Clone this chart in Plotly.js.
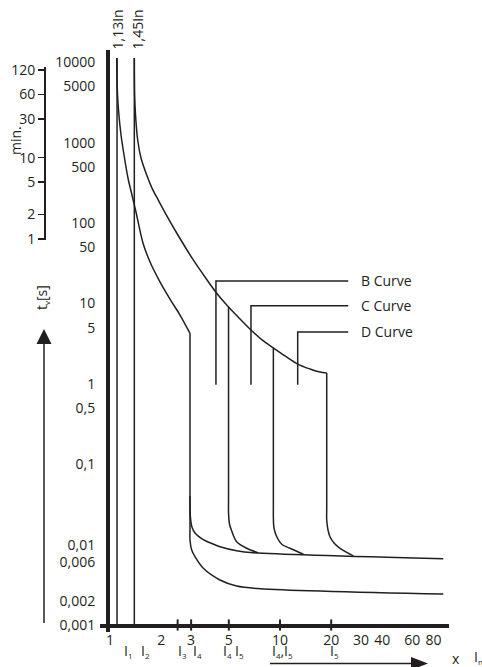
<!DOCTYPE html>
<html><head><meta charset="utf-8">
<script src="https://cdn.plot.ly/plotly-3.0.1.min.js"></script>
<style>html,body{margin:0;padding:0;background:#fff;}#chart{width:482px;height:667px;}</style>
</head><body><div id="chart"></div>
<script>
// ---------- data ----------
const xTickVals = [1, 2, 3, 5, 10, 20, 30, 40, 60, 80];
const xTickText = ['1', '2', '3', '5', '10', '20', '30', '40', '60', '80'];
const yTickVals = [10000, 5000, 1000, 500, 100, 50, 10, 5, 1, 0.5, 0.1, 0.01, 0.006, 0.002, 0.001];
const yTickText = ['10000', '5000', '1000', '500', '100', '50', '10', '5', '1', '0,5', '0,1', '0,01', '0,006', '0,002', '0,001'];
const minTickVals = [120, 60, 30, 10, 5, 2, 1];
const markTicks = [2.5, 3, 5, 10, 20];

const limitX = [1.1, 1.39];            // 1,13In and 1,45In lines
const limitLabels = ['1,13In', '1,45In'];
const limitY = [11270, 0.001];

const thermalLowX = [1.095, 1.104, 1.122, 1.161, 1.209, 1.276, 1.347, 1.422, 1.563, 1.72, 1.968, 2.254, 2.581, 2.955];
const thermalLowY = [11270, 4510, 2543, 1244, 701, 363, 223, 137, 56.4, 32.7, 18.5, 11.3, 7.17, 4.25];

const dropLowX = [2.955, 2.955, 2.955, 3.024, 3.162, 3.54, 4.436, 5.56, 7.63, 91.3];
const dropLowY = [4.25, 0.016, 0.0114, 0.00857, 0.00707, 0.00507, 0.00363, 0.00305, 0.00283, 0.00243];

const upperBranchX = [2.955, 2.955, 2.975, 3.034, 3.162, 3.54, 4.035, 4.436, 5.56, 6.97, 91.3];
const upperBranchY = [0.04, 0.03, 0.0214, 0.01656, 0.01393, 0.01155, 0.01018, 0.00942, 0.0084, 0.00793, 0.00668];

const thermalHighX = [1.39, 1.396, 1.413, 1.455, 1.522, 1.644, 1.766, 1.923, 2.164, 2.468, 3.09, 3.62, 4.232, 4.98, 5.82, 6.75, 7.84, 9.14, 10.7, 12.71, 15.0, 17.19, 18.83];
const thermalHighY = [11270, 3909, 2205, 1077, 643, 395, 272, 193, 122, 75.1, 34.7, 21.3, 13.5, 9.02, 6.4, 4.67, 3.51, 2.79, 2.22, 1.76, 1.53, 1.40, 1.36];

const drop5X = [4.98, 4.98, 4.98, 5.045, 5.2, 5.56, 6.37, 7.42];
const drop5Y = [9.02, 0.035, 0.0247, 0.01803, 0.01476, 0.01087, 0.0090, 0.0079];

const drop9X = [9.14, 9.14, 9.14, 9.22, 9.57, 10.27, 11.45, 13.71];
const drop9Y = [2.79, 0.03, 0.0222, 0.01606, 0.01253, 0.01002, 0.0090, 0.00758];

const drop19X = [18.83, 18.83, 18.83, 19.16, 19.68, 20.79, 22.54, 27.0];
const drop19Y = [1.36, 0.028, 0.0202, 0.0152, 0.01253, 0.01047, 0.0090, 0.00725];

const curveNames = ['B Curve', 'C Curve', 'D Curve'];
const leaderX = [4.2, 6.75, 12.71];
const leaderY = [19.0, 9.36, 4.41];
const leaderBottom = 0.97;
const leaderEnd = 25.2;

// ---------- layout geometry ----------
const W = 482, H = 667, ML = 0, MR = 33, MT = 50, MB = 35;
const PW = W - ML - MR, PH = H - MT - MB;
const px = v => (v - ML) / PW;
const py = v => (H - MB - v) / PH;
const INK = '#231f20';
const FONT = 'Open Sans, Noto Sans, sans-serif';

const lineStyle = {color: INK, width: 1.5};
const traces = [];
function addLine(x, y, shape) {
  traces.push({x: x, y: y, mode: 'lines', type: 'scatter', line: Object.assign({}, lineStyle, shape ? {shape: 'spline', smoothing: 0.9} : {}),
    hoverinfo: 'skip', showlegend: false, cliponaxis: false});
}
limitX.forEach(v => addLine([v, v], limitY, false));
addLine(thermalLowX, thermalLowY, true);
addLine(dropLowX, dropLowY, true);
addLine(upperBranchX, upperBranchY, true);
addLine(thermalHighX, thermalHighY, true);
addLine(drop5X, drop5Y, true);
addLine(drop9X, drop9Y, true);
addLine(drop19X, drop19Y, true);
leaderX.forEach((lx, i) => addLine([lx, lx, leaderEnd], [leaderBottom, leaderY[i], leaderY[i]], false));
traces.push({x: markTicks, y: markTicks.map(() => 0.001), mode: 'markers', type: 'scatter',
  marker: {symbol: 'line-ns-open', size: 8, color: INK, line: {color: INK, width: 2}}, hoverinfo: 'skip', showlegend: false, cliponaxis: false});
// anchor trace for minutes axis
traces.push({x: [null], y: [null], yaxis: 'y2', mode: 'lines', hoverinfo: 'skip', showlegend: false});

const annotations = [];
function ann(text, x, y, extra) {
  annotations.push(Object.assign({text: text, x: x, y: y, xref: 'paper', yref: 'paper', showarrow: false,
    xanchor: 'center', yanchor: 'middle', font: {family: FONT, size: 14, color: INK}}, extra || {}));
}
const sub = t => '<sub><span style="font-size:8px">' + t + '</span></sub>';
ann(limitLabels[0], px(117.5), py(30), {textangle: -90});
ann(limitLabels[1], px(137.5), py(30), {textangle: -90});
ann('min.', px(15.5), py(140.5), {textangle: -90});
ann('t' + sub('v') + '[s]', px(42), py(298), {textangle: -90});
ann('x', px(456), py(658.5));
ann('I' + sub('n'), px(471.5), py(657), {xanchor: 'left'});
const iLabels = [['I' + sub('1'), 121.5], ['I' + sub('2'), 139], ['I' + sub('3'), 175.7], ['I' + sub('4'), 191.3],
  ['I' + sub('4'), 221.3], ['I' + sub('5'), 233], ['I' + sub('4') + ',I' + sub('5'), 269.7], ['I' + sub('5'), 328]];
iLabels.forEach(l => ann(l[0], px(l[1]), py(651), {xanchor: 'left'}));
curveNames.forEach((n, i) => ann(n, px(359), Math.log10(leaderY[i]), {yref: 'y', xanchor: 'left'}));

const shapes = [
  {type: 'line', xref: 'paper', yref: 'paper', x0: px(44), x1: px(44), y0: py(623), y1: py(342), line: {color: INK, width: 1.5}},
  {type: 'path', xref: 'paper', yref: 'paper', path: `M ${px(44)} ${py(329)} L ${px(36.5)} ${py(344)} L ${px(51.5)} ${py(344)} Z`, fillcolor: INK, line: {width: 0}},
  {type: 'line', xref: 'paper', yref: 'paper', x0: px(270), x1: px(413), y0: py(663.5), y1: py(663.5), line: {color: INK, width: 1.5}},
  {type: 'path', xref: 'paper', yref: 'paper', path: `M ${px(428)} ${py(663.5)} L ${px(411)} ${py(657)} L ${px(411)} ${py(670)} Z`, fillcolor: INK, line: {width: 0}}
];

const layout = {
  width: W, height: H, margin: {l: ML, r: MR, t: MT, b: MB}, paper_bgcolor: '#fff', plot_bgcolor: 'rgba(0,0,0,0)',
  font: {family: FONT, size: 14, color: INK}, showlegend: false,
  xaxis: {type: 'log', domain: [px(100), 1], range: [(100 - 110) / 170, (449 - 110) / 170], anchor: 'free', position: py(626),
    showline: true, linewidth: 4, linecolor: INK, showgrid: false, zeroline: false, ticks: '',
    tickmode: 'array', tickvals: xTickVals, ticktext: xTickText, tickfont: {size: 14, color: INK}},
  yaxis: {type: 'log', domain: [0, 1], range: [(625 - 632) / 80.4 - 3, (625 - 50) / 80.4 - 3], anchor: 'free', position: px(108),
    showline: true, linewidth: 4, linecolor: INK, showgrid: false, zeroline: false, ticks: 'outside', ticklen: 8, tickcolor: 'rgba(0,0,0,0)',
    tickmode: 'array', tickvals: yTickVals, ticktext: yTickText, tickfont: {size: 14, color: INK}},
  yaxis2: {type: 'log', domain: [py(240), py(67)], range: [(239 - 240) / 81.3, (239 - 67) / 81.3], anchor: 'free', position: px(45),
    showline: true, linewidth: 2, linecolor: INK, showgrid: false, zeroline: false, ticks: 'outside', ticklen: 6, tickwidth: 1.5, tickcolor: INK,
    tickmode: 'array', tickvals: minTickVals, ticktext: minTickVals.map(String), tickfont: {size: 14, color: INK}},
  annotations: annotations, shapes: shapes
};
Plotly.newPlot('chart', traces, layout, {staticPlot: true, displayModeBar: false});
</script></body></html>
